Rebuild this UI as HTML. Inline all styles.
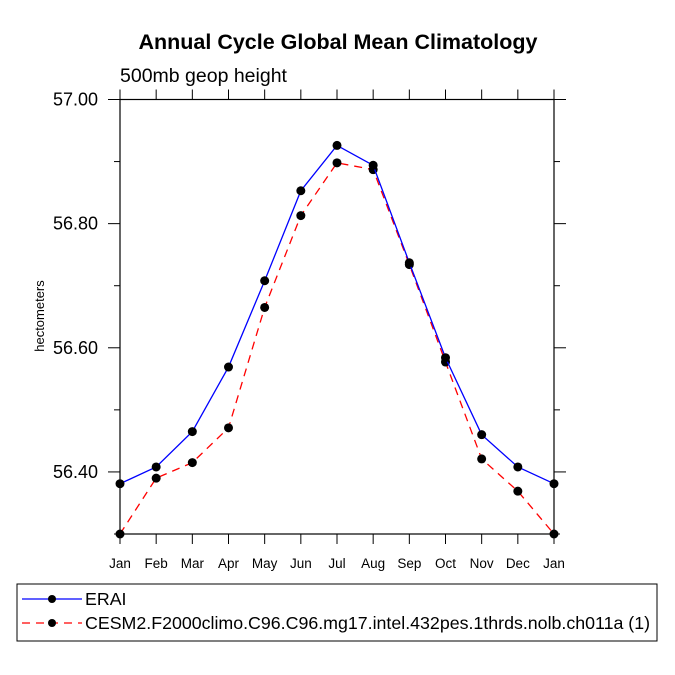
<!DOCTYPE html>
<html><head><meta charset="utf-8"><style>body{margin:0;background:#fff}svg{display:block;font-family:"Liberation Sans",sans-serif}</style></head>
<body>
<svg width="675" height="675" viewBox="0 0 675 675">
<text x="338" y="49" text-anchor="middle" font-size="21.5" font-weight="bold">Annual Cycle Global Mean Climatology</text>
<text x="120" y="82" font-size="19.5">500mb geop height</text>
<text transform="translate(44,316) rotate(-90)" text-anchor="middle" font-size="13">hectometers</text>
<g id="axes"></g>
<g id="series"></g>
<rect x="17" y="584" width="640" height="57" fill="none" stroke="#000" stroke-width="1"/>
<g>
<line x1="22" y1="599" x2="82" y2="599" stroke="#00f" stroke-width="1.3"/>
<circle cx="52" cy="599" r="4" fill="#000"/>
<text x="85" y="605" font-size="17.8">ERAI</text>
</g>
<g>
<line x1="22" y1="623" x2="82" y2="623" stroke="#f00" stroke-width="1.3" stroke-dasharray="8,6"/>
<circle cx="52" cy="623" r="4" fill="#000"/>
<text x="85" y="629" font-size="17.8">CESM2.F2000climo.C96.C96.mg17.intel.432pes.1thrds.nolb.ch011a (1)</text>
</g>
</svg>
<script>
const months=["Jan","Feb","Mar","Apr","May","Jun","Jul","Aug","Sep","Oct","Nov","Dec","Jan"];
const erai=[56.381,56.408,56.465,56.569,56.708,56.853,56.926,56.894,56.737,56.584,56.460,56.408,56.381];
const cesm=[56.300,56.390,56.415,56.471,56.665,56.813,56.898,56.887,56.734,56.577,56.421,56.369,56.300];
const yTicks=[57.00,56.80,56.60,56.40];
const yMinor=[56.90,56.70,56.50,56.30];
const yMin=56.30,yMax=57.00;
const L=120,R=554,T=99.5,B=534;
const NS="http://www.w3.org/2000/svg";
function xS(i){return L+(R-L)*i/(months.length-1);}
function yS(v){return B-(v-yMin)/(yMax-yMin)*(B-T);}
function mk(tag,attrs,parent){const e=document.createElementNS(NS,tag);for(const k in attrs)e.setAttribute(k,attrs[k]);parent.appendChild(e);return e;}
const ax=document.getElementById('axes');
const frame=mk('rect',{x:L,y:T,width:R-L,height:B-T,fill:'none',stroke:'#000','stroke-width':1.2},ax);


months.forEach((m,i)=>{
  const x=xS(i);
  mk('line',{x1:x,y1:B,x2:x,y2:B+10,stroke:'#000'},ax);
  mk('line',{x1:x,y1:T,x2:x,y2:T-10,stroke:'#000'},ax);
  const t=mk('text',{x:x,y:B+34,'text-anchor':'middle','font-size':13.5},ax);
  t.textContent=m;
  
  
});
yTicks.forEach(v=>{
  const y=yS(v);
  mk('line',{x1:L,y1:y,x2:L-12,y2:y,stroke:'#000'},ax);
  mk('line',{x1:R,y1:y,x2:R+12,y2:y,stroke:'#000'},ax);
  const t=mk('text',{x:L-22,y:y+6,'text-anchor':'end','font-size':18},ax);
  t.textContent=v.toFixed(2);
  
  
});
yMinor.forEach(v=>{
  const y=yS(v);
  mk('line',{x1:L,y1:y,x2:L-6,y2:y,stroke:'#000'},ax);
  mk('line',{x1:R,y1:y,x2:R+6,y2:y,stroke:'#000'},ax);
});
const sg=document.getElementById('series');
function draw(vals,color,dash,name){
  const g=mk('g',{},sg);
  
  
  const pts=vals.map((v,i)=>xS(i)+','+yS(v)).join(' ');
  const a={points:pts,fill:'none',stroke:color,'stroke-width':1.3};
  if(dash)a['stroke-dasharray']=dash;
  mk('polyline',a,g);
  vals.forEach((v,i)=>{
    const c=mk('circle',{cx:xS(i),cy:yS(v),r:4.5,fill:'#000'},g);
    
    
  });
}
draw(cesm,'#f00','8,6','cesm2-series');
draw(erai,'#00f',null,'erai-series');
</script>
</body></html>
